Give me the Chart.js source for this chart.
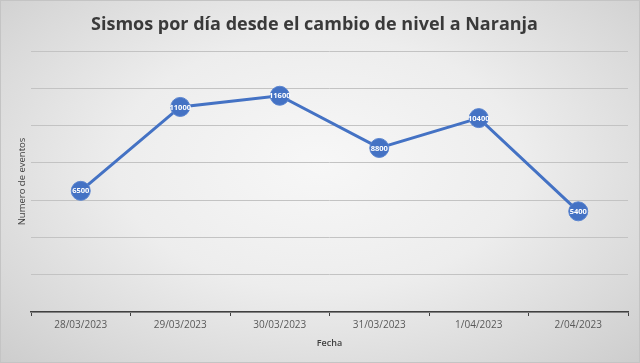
<!DOCTYPE html>
<html>
<head>
<meta charset="utf-8">
<script src="https://cdn.jsdelivr.net/npm/chart.js@4.4.0/dist/chart.umd.min.js"></script>
<style>
html,body{margin:0;padding:0;}
body{width:640px;height:363px;overflow:hidden;}
#wrap{position:relative;width:640px;height:363px;box-sizing:border-box;border:1px solid #c4c4c4;
background:radial-gradient(ellipse at 50% 45%, #f7f7f7 0%, #ededed 45%, #d9d9d9 80%, #cdcdcd 100%);}
canvas{position:absolute;left:0;top:0;}
</style>
</head>
<body>
<div id="wrap"><canvas id="c" width="640" height="363"></canvas></div>
<script>
const categories = ["28/03/2023","29/03/2023","30/03/2023","31/03/2023","1/04/2023","2/04/2023"];
const eventos = [6500, 11000, 11600, 8800, 10400, 5400];
const chartTitle = "Sismos por día desde el cambio de nivel a Naranja";
const xTitle = "Fecha";
const yTitle = "Numero de eventos";

const FONT = "'Open Sans', 'Liberation Sans', sans-serif";

const labelPlugin = {
  id: 'pointLabels',
  afterDatasetsDraw(chart) {
    const ctx = chart.ctx;
    const meta = chart.getDatasetMeta(0);
    const data = chart.data.datasets[0].data;
    ctx.save();
    ctx.fillStyle = '#ffffff';
    ctx.font = "bold 7.5px " + FONT;
    ctx.textAlign = 'center';
    ctx.textBaseline = 'middle';
    meta.data.forEach((pt, i) => {
      ctx.fillText(String(data[i]), pt.x, pt.y + 0.5);
    });
    ctx.restore();
  }
};

new Chart(document.getElementById('c'), {
  type: 'line',
  data: {
    labels: categories,
    datasets: [{
      data: eventos,
      borderColor: '#4472C4',
      borderWidth: 3,
      backgroundColor: '#4472C4',
      pointBackgroundColor: '#4472C4',
      pointBorderColor: '#5a84cf',
      pointBorderWidth: 1,
      pointRadius: 9.5,
      tension: 0
    }]
  },
  options: {
    responsive: false,
    animation: false,
    devicePixelRatio: 1,
    layout: { padding: { left: 0, right: 13, top: 0, bottom: 0 } },
    plugins: {
      legend: { display: false },
      tooltip: { enabled: false },
      title: {
        display: true,
        text: chartTitle,
        color: '#3a3a3a',
        font: { family: FONT, size: 18, weight: 'bold' },
        padding: { top: 13, bottom: 15.4 }
      }
    },
    scales: {
      x: {
        offset: true,
        grid: { display: true, drawOnChartArea: false, drawTicks: true, tickLength: 4, color: '#404040', offset: true },
        border: { display: true, color: '#404040', width: 1.5 },
        ticks: { color: '#595959', font: { family: FONT, size: 10 }, padding: 3, maxRotation: 0 },
        title: { display: true, text: xTitle, color: '#404040', font: { family: FONT, size: 9, weight: '600' }, padding: { top: 0, bottom: 15 } },
        afterFit(scale) { scale.height = 52; }
      },
      y: {
        min: 0,
        max: 14000,
        ticks: { display: false, stepSize: 2000 },
        grid: { color: '#c3c3c3', lineWidth: 1, drawTicks: false },
        border: { display: false },
        title: { display: true, text: yTitle, color: '#404040', font: { family: FONT, size: 9.5 }, padding: { top: 16, bottom: 0 } },
        afterFit(scale) { scale.width = 30; }
      }
    }
  },
  plugins: [labelPlugin]
});
</script>
</body>
</html>
